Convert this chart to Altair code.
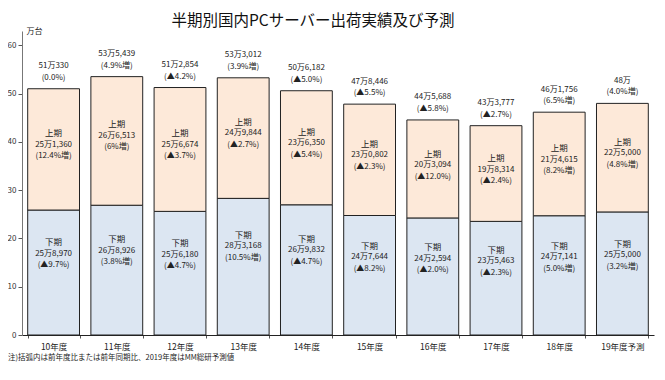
import altair as alt
import pandas as pd

years = ["10年度", "11年度", "12年度", "13年度", "14年度", "15年度", "16年度", "17年度", "18年度", "19年度予測"]

# 下期 (lower segment) in 万台
shimo_vals = [25.8970, 26.8926, 25.6180, 28.3168, 26.9832, 24.7644, 24.2594, 23.5463, 24.7141, 25.5000]
shimo_text = ["25万8,970", "26万8,926", "25万6,180", "28万3,168", "26万9,832", "24万7,644", "24万2,594", "23万5,463", "24万7,141", "25万5,000"]
shimo_pct = ["(▲9.7%)", "(3.8%増)", "(▲4.7%)", "(10.5%増)", "(▲4.7%)", "(▲8.2%)", "(▲2.0%)", "(▲2.3%)", "(5.0%増)", "(3.2%増)"]

# 上期 (upper segment) in 万台
kami_vals = [25.1360, 26.6513, 25.6674, 24.9844, 23.6350, 23.0802, 20.3094, 19.8314, 21.4615, 22.5000]
kami_text = ["25万1,360", "26万6,513", "25万6,674", "24万9,844", "23万6,350", "23万0,802", "20万3,094", "19万8,314", "21万4,615", "22万5,000"]
kami_pct = ["(12.4%増)", "(6%増)", "(▲3.7%)", "(▲2.7%)", "(▲5.4%)", "(▲2.3%)", "(▲12.0%)", "(▲2.4%)", "(8.2%増)", "(4.8%増)"]

# totals
total_text = ["51万330", "53万5,439", "51万2,854", "53万3,012", "50万6,182", "47万8,446", "44万5,688", "43万3,777", "46万1,756", "48万"]
total_pct = ["(0.0%)", "(4.9%増)", "(▲4.2%)", "(3.9%増)", "(▲5.0%)", "(▲5.5%)", "(▲5.8%)", "(▲2.7%)", "(6.5%増)", "(4.0%増)"]

periods = ["下期", "上期"]
colors = ["#dce6f2", "#fde9d9"]

title_text = "半期別国内PCサーバー出荷実績及び予測"
note_text = "注)括弧内は前年度比または前年同期比、2019年度はMM総研予測値"

rows = []
for i, yr in enumerate(years):
    s0, s1 = 0.0, shimo_vals[i]
    k0, k1 = shimo_vals[i], shimo_vals[i] + kami_vals[i]
    rows.append(dict(year=yr, period="下期", y0=s0, y1=s1, ylab=s0 + 0.65 * (s1 - s0),
                     head="下期", val=shimo_text[i], pct=shimo_pct[i]))
    rows.append(dict(year=yr, period="上期", y0=k0, y1=k1, ylab=k0 + 0.54 * (k1 - k0),
                     head="上期", val=kami_text[i], pct=kami_pct[i]))
seg = pd.DataFrame(rows)

tot = pd.DataFrame(dict(year=years,
                        total=[a + b for a, b in zip(shimo_vals, kami_vals)],
                        ttext=total_text, tpct=total_pct))

FONT = "Noto Sans CJK JP"

x_enc = alt.X("year:N", sort=years, title=None,
              scale=alt.Scale(paddingInner=0.18, paddingOuter=0.09),
              axis=alt.Axis(labelAngle=0, labelFont=FONT, labelFontSize=8.5, labelColor="#222",
                            labelPadding=4, domainColor="#222", tickColor="#555",
                            tickSize=3, tickBand="extent"))
y_scale = alt.Scale(domain=[0, 63], nice=False)

bars = alt.Chart(seg).mark_bar(stroke="#222", strokeWidth=1).encode(
    x=x_enc,
    y=alt.Y("y0:Q", scale=y_scale, title="万台",
            axis=alt.Axis(values=[0, 10, 20, 30, 40, 50, 60], grid=False,
                          labelFont=FONT, labelFontSize=8, labelColor="#333",
                          domainColor="#777", tickColor="#555", tickSize=4,
                          titleAngle=0, titleFont=FONT, titleFontSize=8,
                          titleFontWeight="normal", titleColor="#222",
                          titleAlign="left", titleBaseline="middle",
                          titleX=4, titleY=0)),
    y2="y1:Q",
    color=alt.Color("period:N", scale=alt.Scale(domain=periods, range=colors), legend=None),
)

def seg_text(field, dy, size):
    return alt.Chart(seg).mark_text(font=FONT, fontSize=size, color="#222", dy=dy,
                                    baseline="middle", align="center").encode(
        x=alt.X("year:N", sort=years),
        y=alt.Y("ylab:Q", scale=y_scale),
        text=f"{field}:N",
    )

heads = seg_text("head", -11.5, 8.5)
vals = seg_text("val", 0, 8)
pcts = seg_text("pct", 11.5, 8)

def tot_text(field, dy):
    return alt.Chart(tot).mark_text(font=FONT, fontSize=8, color="#222", dy=dy,
                                    baseline="middle", align="center").encode(
        x=alt.X("year:N", sort=years),
        y=alt.Y("total:Q", scale=y_scale),
        text=f"{field}:N",
    )

t1 = tot_text("ttext", -22.5)
t2 = tot_text("tpct", -11)

note = alt.Chart(pd.DataFrame({"t": [note_text]})).mark_text(
    font=FONT, fontSize=7.5, color="#222", align="left", baseline="middle"
).encode(x=alt.value(-14), y=alt.value(327), text="t:N")

title = alt.Chart(pd.DataFrame({"t": [title_text]})).mark_text(
    font=FONT, fontSize=15.5, color="#111", align="center", baseline="middle"
).encode(x=alt.value(291), y=alt.value(-10), text="t:N")

chart = alt.layer(bars, heads, vals, pcts, t1, t2, note, title).properties(
    width=632, height=304,
    autosize=alt.AutoSizeParams(type="none"),
    padding={"left": 14, "top": 23, "right": 3, "bottom": 37},
).configure_view(stroke=None)

chart.save("out.html", embed_options={"renderer": "svg", "actions": False})
